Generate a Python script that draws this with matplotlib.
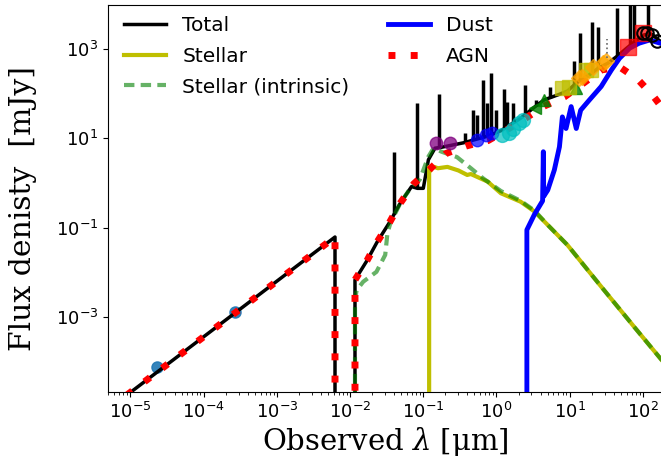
import numpy as np
import matplotlib
matplotlib.use('Agg')
import matplotlib.pyplot as plt
from matplotlib.ticker import LogLocator, NullLocator, FixedLocator

plt.rcParams['mathtext.fontset'] = 'dejavuserif'
plt.rcParams['font.family'] = ['DejaVu Sans']

# ---- data: log10(wavelength / um), log10(flux / mJy) ----
total_loglam = [-5.05, -2.206, -2.206, -1.933, -1.933, -1.77, -1.63, -1.46, -1.31, -1.16,
                -1.08, -1.00, -0.93, -0.84, -0.75, -0.45, -0.12, 0.06, 0.33, 0.52, 0.65,
                0.85, 0.97, 1.10, 1.25, 1.40, 1.52, 1.65, 1.78, 1.90, 2.02, 2.12, 2.20, 2.30]
total_logflux = [-4.75, -1.21, -6.0, -6.0, -2.17, -1.74, -1.32, -0.88, -0.44, -0.08,
                 -0.12, -0.12, 0.52, 0.78, 0.80, 0.90, 1.05, 1.17, 1.45, 1.70, 1.86,
                 1.98, 2.06, 2.25, 2.40, 2.58, 2.68, 2.84, 3.02, 3.18, 3.32, 3.33, 3.22, 3.10]

line_loglam = [-1.40, -1.09, -0.79, -0.43, -0.32, -0.26, -0.19, -0.13, -0.07, 0.00, 0.10,
               0.14, 0.23, 0.39, 0.54, 0.73, 1.06, 1.14, 1.30, 1.39, 1.65, 1.82, 1.88, 2.07]
line_logpeak = [0.70, 1.78, 1.99, 1.11, 1.63, 1.52, 2.31, 1.78, 2.46, 1.63, 2.10,
                1.82, 1.78, 2.19, 1.86, 2.14, 2.72, 3.35, 3.61, 3.49, 3.91, 4.30, 4.30, 4.30]

stellar_loglam = [-0.92, -0.92, -0.90, -0.88, -0.85, -0.80, -0.67, -0.52, -0.40, -0.35,
                  -0.12, 0.06, 0.33, 0.52, 0.70, 0.97, 1.43, 1.88, 2.30]
stellar_logflux = [-6.0, 0.36, 0.28, 0.34, 0.36, 0.33, 0.36, 0.28, 0.18, 0.20,
                   0.03, -0.23, -0.42, -0.64, -0.94, -1.39, -2.32, -3.22, -4.05]

intrinsic_loglam = [-1.933, -1.933, -1.91, -1.82, -1.64, -1.52, -1.49, -1.45, -1.31, -1.16,
                    -1.05, -0.93, -0.86, -0.75, -0.54, -0.35, -0.18, 0.06, 0.33, 0.52,
                    0.70, 0.97, 1.43, 1.88, 2.30]
intrinsic_logflux = [-6.0, -2.6, -2.40, -2.21, -1.99, -1.61, -1.13, -0.90, -0.44, -0.08,
                     0.07, 0.59, 0.78, 0.70, 0.58, 0.33, 0.10, -0.18, -0.40, -0.62,
                     -0.94, -1.39, -2.32, -3.22, -4.05]

dust_loglam = [0.415, 0.415, 0.52, 0.63, 0.64, 0.645, 0.70, 0.79, 0.86, 0.90, 0.95, 1.02,
               1.09, 1.15, 1.27, 1.43, 1.57, 1.68, 1.82, 1.95, 2.09, 2.30]
dust_logflux = [-6.0, -1.05, -0.70, -0.40, 0.70, -0.30, -0.16, 0.29, 0.81, 1.48, 1.22, 1.71,
                1.22, 1.63, 1.86, 2.16, 2.53, 2.79, 3.02, 3.13, 3.20, 3.10]

agn_loglam = [-5.05, -2.206, -2.206, -1.933, -1.933, -1.77, -1.63, -1.46, -1.31, -1.13,
              -0.91, -0.69, -0.41, -0.115, 0.15, 0.425, 0.65, 0.93, 1.20, 1.43, 1.68,
              1.93, 2.14, 2.35]
agn_logflux = [-4.75, -1.21, -6.0, -6.0, -2.17, -1.74, -1.32, -0.88, -0.44, -0.02,
               0.31, 0.66, 0.83, 0.95, 1.20, 1.48, 1.72, 1.93, 2.25, 2.53, 2.60,
               2.32, 1.95, 1.50]

# observed photometry groups
xray_loglam, xray_logflux = [-4.634, -3.572], [-4.13, -2.89]
purple_loglam, purple_logflux = [-0.83, -0.63], [0.89, 0.89]
blue_loglam, blue_logflux = [-0.26, -0.15, -0.055], [0.96, 1.07, 1.11]
cyan_loglam, cyan_logflux = [0.08, 0.17, 0.23, 0.31, 0.36], [1.08, 1.12, 1.20, 1.35, 1.42]
green_loglam, green_logflux = [0.52, 0.65, 1.09], [1.67, 1.86, 2.12]
olive_loglam, olive_logflux = [0.90, 0.99, 1.22, 1.29], [2.12, 2.16, 2.53, 2.53]
orange_loglam, orange_logflux = [1.13, 1.17, 1.32, 1.45, 1.50], [2.34, 2.38, 2.60, 2.68, 2.72]
red_loglam, red_logflux = [1.79, 2.00], [3.05, 3.35]
open_loglam, open_logflux = [2.00, 2.06, 2.12, 2.19], [3.35, 3.35, 3.31, 3.17]

x_ticks = [1e-5, 1e-4, 1e-3, 1e-2, 1e-1, 1e0, 1e1, 1e2]
y_ticks = [1e-3, 1e-1, 1e1, 1e3]


def p(a):
    return 10.0 ** np.asarray(a, dtype=float)


fig = plt.figure(figsize=(6.61, 4.62), dpi=100)
ax = fig.add_axes([108 / 661, 70 / 462, 554 / 661, 387 / 462])

ax.plot(p(total_loglam), p(total_logflux), color='k', lw=2.5, label='Total', zorder=2)
base = np.interp(line_loglam, total_loglam[5:], total_logflux[5:])
ax.vlines(p(line_loglam), p(base), p(line_logpeak), color='k', lw=2.5, zorder=2)
ax.plot(p(stellar_loglam), p(stellar_logflux), color='y', lw=3, label='Stellar', zorder=3)
ax.plot(p(intrinsic_loglam), p(intrinsic_logflux), color='g', alpha=0.6, lw=3,
        ls=(0, (2.5, 1.5)), label='Stellar (intrinsic)', zorder=4)
ax.plot(p(dust_loglam), p(dust_logflux), color='b', lw=3.5, label='Dust', zorder=5)
ax.plot(p(agn_loglam), p(agn_logflux), color='r', lw=5, ls=(0, (1, 2.2)),
        label='AGN', zorder=6)

ax.plot(p(xray_loglam), p(xray_logflux), 'o', color='C0', ms=8, alpha=0.9, zorder=1)
ax.plot(p(purple_loglam), p(purple_logflux), 'o', color='purple', ms=9, alpha=0.75, zorder=7)
ax.plot(p(blue_loglam), p(blue_logflux), 'o', color='b', ms=9, alpha=0.7, zorder=7)
ax.plot(p(cyan_loglam), p(cyan_logflux), 'o', color='c', ms=10, alpha=0.7, zorder=7)
ax.plot(p(green_loglam[:1]), p(green_logflux[:1]), '<', color='g', ms=9, alpha=0.8, zorder=7)
ax.plot(p(green_loglam[1:]), p(green_logflux[1:]), '^', color='g', ms=9, alpha=0.8, zorder=7)
ax.plot(p(olive_loglam), p(olive_logflux), 's', color='y', ms=10, alpha=0.7, zorder=7)
ax.plot(p(orange_loglam), p(orange_logflux), 'D', color='orange', ms=8, alpha=0.7, zorder=7)
ax.plot(p(red_loglam), p(red_logflux), 's', color='r', ms=12, alpha=0.7, zorder=7)
ax.plot(p(open_loglam), p(open_logflux), 'o', mfc='none', mec='k', mew=1.5, ms=9, zorder=8)
ax.plot(p([1.51, 1.51]), p([2.80, 3.22]), ls=':', color='0.4', lw=1.2, zorder=8)

ax.set_xscale('log')
ax.set_yscale('log')
ax.set_xlim(10 ** -5.307, 10 ** 2.261)
ax.set_ylim(10 ** -4.68, 10 ** 3.985)

ax.xaxis.set_major_locator(FixedLocator(x_ticks))
ax.xaxis.set_minor_locator(LogLocator(base=10, subs=np.arange(2, 10), numticks=30))
ax.yaxis.set_major_locator(FixedLocator(y_ticks))
ax.yaxis.set_minor_locator(NullLocator())
ax.tick_params(labelsize=13)
ax.spines['right'].set_visible(False)

ax.set_xlabel(r'Observed $\lambda$ [μm]', family='DejaVu Serif', fontsize=21, labelpad=2)
ax.set_ylabel('Flux denisty  [mJy]', family='DejaVu Serif', fontsize=21.5)
ax.yaxis.set_label_coords(-0.128, 0.473)

ax.legend(loc='upper left', bbox_to_anchor=(5 / 554, 1.0), ncol=2, frameon=False,
          fontsize=14.5, borderaxespad=0.15, handlelength=2.1, columnspacing=1.9,
          handletextpad=0.8, labelspacing=0.58)

fig.savefig('out.png', dpi=100)
